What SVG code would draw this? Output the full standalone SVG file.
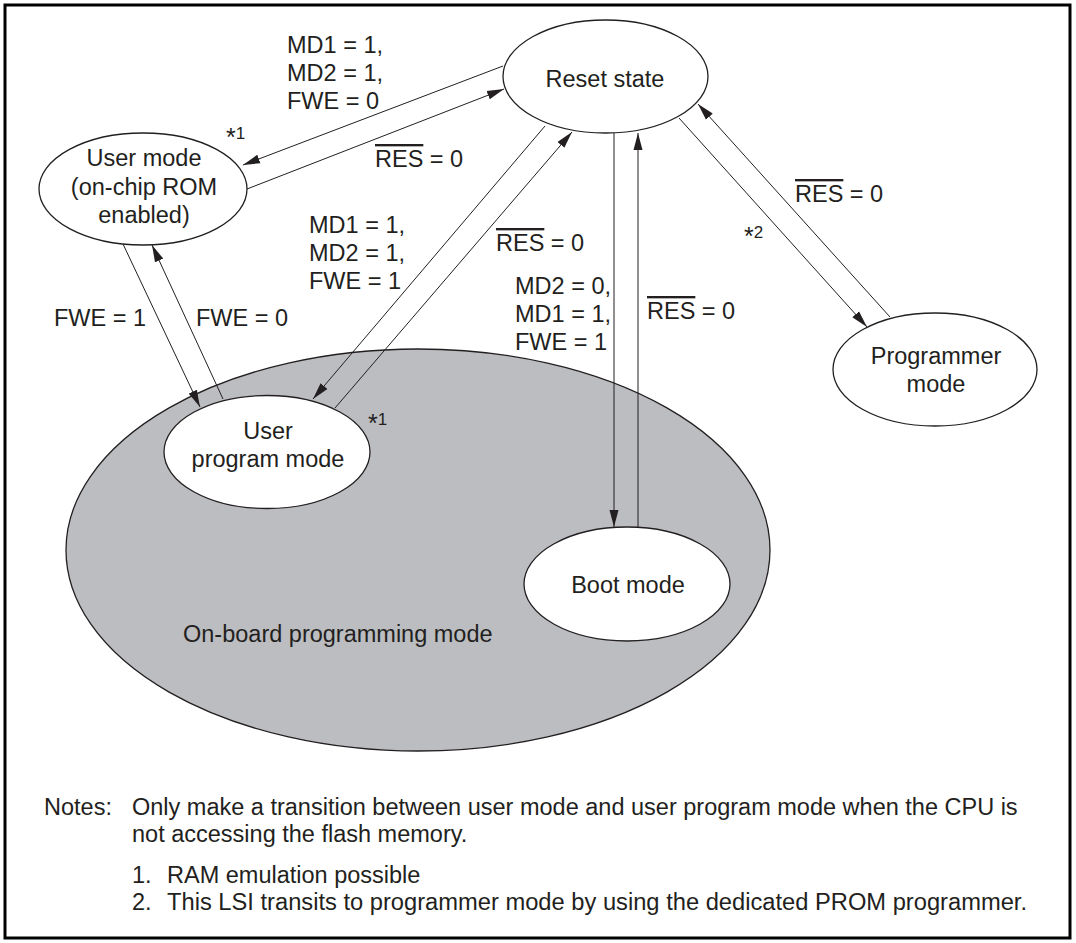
<svg xmlns="http://www.w3.org/2000/svg" width="1076" height="943" viewBox="0 0 1076 943">
<style>
text{font-family:"Liberation Sans",Arial,sans-serif;font-size:23.5px;fill:#231f20}
.c{text-anchor:middle}
.sm{font-size:17px}
.ast{font-size:25px}
.node{fill:#fff;stroke:#231f20;stroke-width:1.3}
.edge{stroke:#231f20;stroke-width:1;fill:none;marker-end:url(#ah)}
.ov{text-decoration:overline}
</style>
<defs>
<marker id="ah" markerUnits="userSpaceOnUse" markerWidth="17" markerHeight="10" refX="17" refY="5" orient="auto">
<path d="M0,0.5 L17,5 L0,9.5 z" fill="#231f20"/>
</marker>
</defs>
<rect x="5" y="5" width="1065" height="933" fill="#fff" stroke="#000" stroke-width="3"/>
<g id="onboard">
<ellipse cx="418" cy="550" rx="352" ry="201" fill="#bcbdc0" stroke="#231f20" stroke-width="1.3"/>
<text x="183" y="642">On-board programming mode</text>
</g>
<g id="reset">
<ellipse class="node" cx="605.5" cy="76.5" rx="102.5" ry="56.5"/>
<text class="c" x="605" y="87">Reset state</text>
</g>
<g id="usermode">
<ellipse class="node" cx="143" cy="189" rx="104" ry="56"/>
<text class="c" x="144" y="166">User mode</text>
<text class="c" x="144" y="195">(on-chip ROM</text>
<text class="c" x="144" y="223">enabled)</text>
</g>
<g id="userprog">
<ellipse class="node" cx="267" cy="452" rx="103" ry="56.5"/>
<text class="c" x="268" y="439">User</text>
<text class="c" x="268" y="467">program mode</text>
</g>
<g id="boot">
<ellipse class="node" cx="627" cy="584" rx="103" ry="57"/>
<text class="c" x="628" y="593">Boot mode</text>
</g>
<g id="programmer">
<ellipse class="node" cx="935" cy="369.5" rx="102" ry="56.5"/>
<text class="c" x="936" y="364">Programmer</text>
<text class="c" x="936" y="392">mode</text>
</g>
<g id="connectors">
<path class="edge" d="M503,66 L243,165"/>
<path class="edge" d="M247,189 L504,89"/>
<path class="edge" d="M123,244 L200,407"/>
<path class="edge" d="M223,399 L152,245"/>
<path class="edge" d="M545,126 L313,399"/>
<path class="edge" d="M335,408 L572,132"/>
<path class="edge" d="M614,133 L614,527"/>
<path class="edge" d="M638,528 L638,133"/>
<path class="edge" d="M679,118 L867,327"/>
<path class="edge" d="M890,317 L698,104"/>
</g>
<g id="labels">
<text x="287" y="53">MD1 = 1,</text>
<text x="287" y="81">MD2 = 1,</text>
<text x="287" y="109">FWE = 0</text>
<text class="sm" x="226" y="139"><tspan class="ast" dy="7">*</tspan><tspan dy="-7">1</tspan></text>
<text x="375" y="167"><tspan class="ov">RES</tspan> = 0</text>
<text x="309" y="233">MD1 = 1,</text>
<text x="309" y="261">MD2 = 1,</text>
<text x="309" y="289">FWE = 1</text>
<text x="496" y="251"><tspan class="ov">RES</tspan> = 0</text>
<text x="54" y="326">FWE = 1</text>
<text x="196" y="326">FWE = 0</text>
<text x="515" y="294">MD2 = 0,</text>
<text x="515" y="322">MD1 = 1,</text>
<text x="515" y="350">FWE = 1</text>
<text x="647" y="319"><tspan class="ov">RES</tspan> = 0</text>
<text x="795" y="202"><tspan class="ov">RES</tspan> = 0</text>
<text class="sm" x="744" y="238"><tspan class="ast" dy="7">*</tspan><tspan dy="-7">2</tspan></text>
<text class="sm" x="368" y="425"><tspan class="ast" dy="7">*</tspan><tspan dy="-7">1</tspan></text>
</g>
<g id="notes">
<text x="44" y="815">Notes:</text>
<text x="132" y="815">Only make a transition between user mode and user program mode when the CPU is</text>
<text x="132" y="842">not accessing the flash memory.</text>
<text x="132" y="883">1.</text>
<text x="167" y="883">RAM emulation possible</text>
<text x="132" y="910">2.</text>
<text x="167" y="910" textLength="860" lengthAdjust="spacingAndGlyphs">This LSI transits to programmer mode by using the dedicated PROM programmer.</text>
</g>
</svg>
